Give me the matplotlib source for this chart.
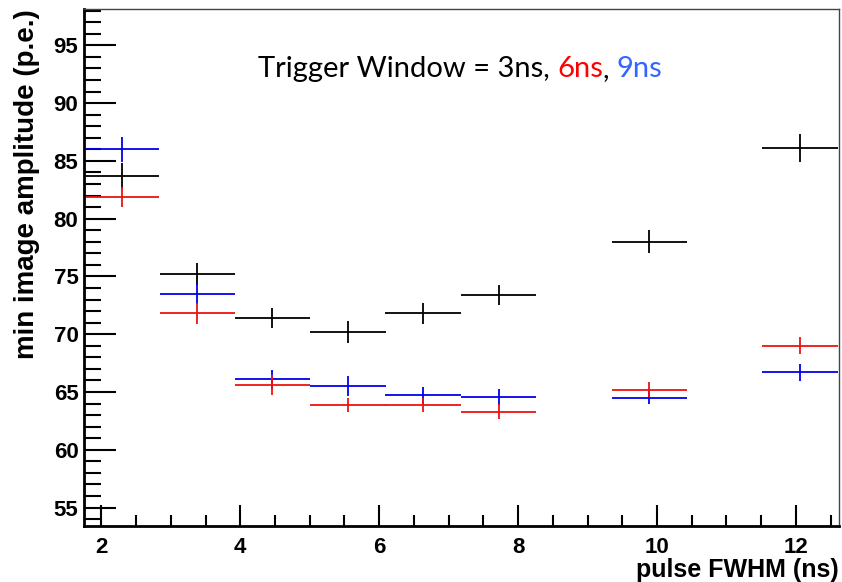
import numpy as np
import matplotlib.pyplot as plt
from matplotlib.ticker import MultipleLocator

# bin centres (pulse FWHM, ns) and half bin width
x_ns = [2.29, 3.38, 4.46, 5.55, 6.63, 7.72, 9.89, 12.06]
half_w = 0.5425

# min image amplitude for trigger window 3ns, 6ns, 9ns
amp_3ns = [83.7, 75.2, 71.4, 70.2, 71.8, 73.4, 78.0, 86.1]
err_3ns = [1.1, 0.95, 0.9, 0.95, 0.93, 0.9, 1.0, 1.2]
amp_6ns = [81.9, 71.8, 65.6, 63.9, 63.9, 63.3, 65.2, 69.0]
err_6ns = [0.85, 0.93, 0.87, 0.6, 0.6, 0.65, 0.65, 0.72]
amp_9ns = [86.0, 73.5, 66.1, 65.5, 64.7, 64.6, 64.5, 66.7]
err_9ns = [1.06, 0.85, 0.8, 0.84, 0.7, 0.7, 0.58, 0.75]

plt.rcParams['font.family'] = ['Liberation Sans', 'DejaVu Sans']

fig = plt.figure(figsize=(8.42, 5.82), dpi=100)
ax = fig.add_axes([0.0998, 0.0962, 0.8966, 0.8875])

for y, e, c in [(amp_3ns, err_3ns, 'k'), (amp_9ns, err_9ns, '#0000ee'), (amp_6ns, err_6ns, '#ee1111')]:
    ax.errorbar(x_ns, y, xerr=half_w, yerr=e, fmt='none', ecolor=c, elinewidth=1.3, capsize=0)

ax.set_xlim(1.75, 12.62)
ax.set_ylim(53.4, 98.1)

ax.xaxis.set_major_locator(MultipleLocator(2))
ax.xaxis.set_minor_locator(MultipleLocator(0.5))
ax.yaxis.set_major_locator(MultipleLocator(5))
ax.yaxis.set_minor_locator(MultipleLocator(1))
ax.tick_params(which='both', direction='in', top=False, right=False, width=1.5, labelsize=16)
ax.tick_params(axis='y', which='major', length=23, pad=4)
ax.tick_params(axis='y', which='minor', length=12)
ax.tick_params(axis='x', which='major', length=15, pad=8)
ax.tick_params(axis='x', which='minor', length=8)
for lab in ax.get_xticklabels() + ax.get_yticklabels():
    lab.set_fontweight('bold')

for s in ['left', 'bottom']:
    ax.spines[s].set_linewidth(2)
for s in ['top', 'right']:
    ax.spines[s].set_linewidth(1)
    ax.spines[s].set_color('#444444')

ax.set_ylabel('min image amplitude (p.e.)', fontsize=20, fontweight='bold', loc='top')
ax.yaxis.set_label_coords(-0.058, 1.0)
ax.set_xlabel('pulse FWHM (ns)', fontsize=18, fontweight='bold', loc='right')
ax.xaxis.set_label_coords(1.0, -0.062)

# title text with coloured parts
tfont = dict(fontsize=21, family=['Lato', 'DejaVu Sans'])
t = ax.text(0.23, 0.884, 'Trigger Window = 3ns, ', color='k', transform=ax.transAxes, va='center', **tfont)
t2 = ax.annotate('6ns', xycoords=t, xy=(1, 0.5), va='center', color='#ff0000', **tfont)
t3 = ax.annotate(', ', xycoords=t2, xy=(1, 0.5), va='center', color='k', **tfont)
ax.annotate('9ns', xycoords=t3, xy=(1, 0.5), va='center', color='#3366ff', **tfont)

fig.savefig('out.png', dpi=100)
